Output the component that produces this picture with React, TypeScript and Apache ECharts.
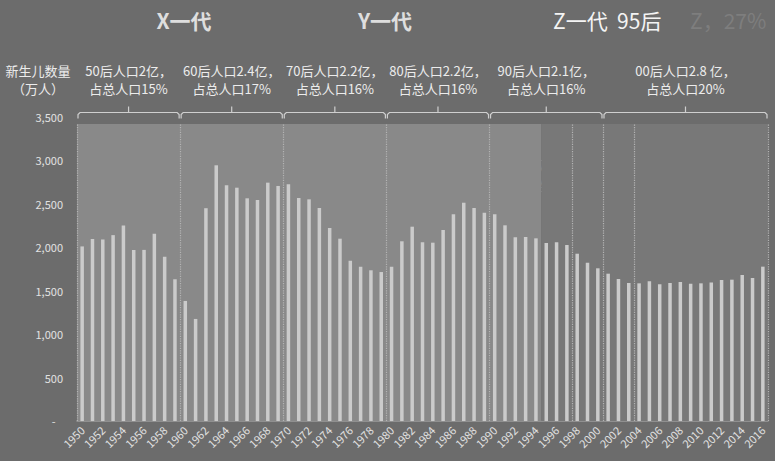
import { useEffect, useRef } from 'react';
import * as echarts from 'echarts';

const FONT = "'Noto Sans CJK SC', 'Noto Sans', sans-serif";

// 1950 … 2016
const years = Array.from({ length: 67 }, (_, i) => String(1950 + i));

// 新生儿数量（万人）
const births = [
  2010, 2095, 2090, 2140, 2250, 1970, 1970, 2157, 1892, 1632,
  1382, 1175, 2450, 2944, 2713, 2686, 2564, 2545, 2744, 2706,
  2725, 2567, 2552, 2452, 2222, 2099, 1846, 1777, 1735, 1715,
  1777, 2069, 2237, 2057, 2053, 2199, 2380, 2513, 2452, 2398,
  2380, 2253, 2115, 2118, 2103, 2049, 2057, 2026, 1926, 1823,
  1758, 1696, 1635, 1589, 1585, 1608, 1574, 1589, 1600, 1581,
  1585, 1596, 1623, 1627, 1681, 1646, 1777,
];

// cohorts: first year, last year, two label lines
const cohortStart = [1950, 1960, 1970, 1980, 1990, 2001];
const cohortEnd = [1959, 1969, 1979, 1989, 2000, 2016];
const cohortLine1 = ['50后人口2亿，', '60后人口2.4亿，', '70后人口2.2亿，', '80后人口2.2亿，', '90后人口2.1亿，', '00后人口2.8 亿，'];
const cohortLine2 = ['占总人口15%', '占总人口17%', '占总人口16%', '占总人口16%', '占总人口16%', '占总人口20%'];

// dotted dividers sit before these years (2017 = right edge)
const dividerYears = [1950, 1960, 1970, 1980, 1990, 1998, 2001, 2004, 2017];
// lighter shaded span of years
const shadeFrom = 1950;
const shadeTo = 1994;

const yTicks = { min: 0, max: 3500, interval: 500 };

const idx = (y: number) => y - 1950;

export default function App() {
  const ref = useRef<HTMLDivElement>(null);

  useEffect(() => {
    if (!ref.current) return;
    const chart = echarts.init(ref.current, null, { renderer: 'svg' });

    const bracketData = cohortStart.map((s, i) => [idx(s), idx(cohortEnd[i]) + 1]);

    chart.setOption({
      animation: false,
      backgroundColor: '#6c6c6c',
      textStyle: { fontFamily: FONT },
      grid: { left: 77, right: 7, top: 117, bottom: 40 },
      xAxis: [
        {
          type: 'category',
          data: years,
          boundaryGap: true,
          axisLine: { lineStyle: { color: '#9c9c9c', width: 1.5 } },
          axisTick: { show: false },
          axisLabel: {
            interval: 1,
            rotate: 45,
            color: '#e2e2e2',
            fontSize: 11,
            margin: 7,
            fontFamily: FONT,
          },
        },
        { type: 'value', min: 0, max: 67, show: false },
      ],
      yAxis: {
        type: 'value',
        ...yTicks,
        axisLine: { show: false },
        axisTick: { show: false },
        splitLine: { show: false },
        axisLabel: {
          color: '#e2e2e2',
          fontSize: 11,
          margin: 14,
          fontFamily: FONT,
          formatter: (v: number) => (v === 0 ? '-   ' : v.toLocaleString('en-US')),
        },
      },
      series: [
        {
          type: 'custom',
          xAxisIndex: 1,
          z: 1,
          silent: true,
          data: bracketData,
          renderItem: (params: any, api: any) => {
            const a = api.coord([api.value(0), yTicks.max]);
            const b = api.coord([api.value(1), yTicks.max]);
            const y = a[1] - 4.5;
            const x0 = a[0] + 1;
            const x1 = b[0] - 1;
            const xc = (a[0] + b[0]) / 2;
            const i = params.dataIndex;
            const stroke = { stroke: '#cfcfcf', lineWidth: 1.2, fill: null };
            return {
              type: 'group',
              children: [
                {
                  type: 'polyline',
                  shape: { points: [[x0, y + 6], [x0, y + 2], [x0 + 2, y], [x1 - 2, y], [x1, y + 2], [x1, y + 6]] },
                  style: stroke,
                },
                { type: 'line', shape: { x1: xc, y1: y, x2: xc, y2: y - 6 }, style: stroke },
                {
                  type: 'text',
                  style: {
                    text: cohortLine1[i], x: xc, y: y - 42,
                    textAlign: 'center', align: 'center', textVerticalAlign: 'middle', verticalAlign: 'middle',
                    fill: '#ececec', font: `13px ${FONT}`,
                  },
                },
                {
                  type: 'text',
                  style: {
                    text: cohortLine2[i], x: xc, y: y - 24,
                    textAlign: 'center', align: 'center', textVerticalAlign: 'middle', verticalAlign: 'middle',
                    fill: '#ececec', font: `13px ${FONT}`,
                  },
                },
              ],
            };
          },
          markArea: {
            silent: true,
            data: [
              [{ xAxis: idx(shadeFrom), yAxis: 0, itemStyle: { color: '#898989' } }, { xAxis: idx(shadeTo) + 1, yAxis: 3420 }],
              [{ xAxis: idx(shadeTo) + 1, yAxis: 0, itemStyle: { color: '#787878' } }, { xAxis: 67, yAxis: 3420 }],
            ],
          },
          markLine: {
            silent: true,
            symbol: ['none', 'none'],
            label: { show: false },
            lineStyle: { color: '#b4b4b4', type: 'dotted', width: 1.2 },
            data: dividerYears.map((yr) => [
              { xAxis: idx(yr), yAxis: 0 },
              { xAxis: idx(yr), yAxis: 3420 },
            ]),
          },
        },
        {
          type: 'bar',
          xAxisIndex: 0,
          z: 3,
          data: births,
          barWidth: 3.5,
          itemStyle: { color: '#cbcbcb' },
        },
      ],
      graphic: [
        { type: 'text', x: 184, y: 20, style: { text: 'X一代', font: `bold 21px ${FONT}`, fill: '#dedede', textAlign: 'center', textVerticalAlign: 'middle' } },
        { type: 'text', x: 385, y: 20, style: { text: 'Y一代', font: `bold 21px ${FONT}`, fill: '#dedede', textAlign: 'center', textVerticalAlign: 'middle' } },
        { type: 'text', x: 553, y: 20, style: { text: 'Z一代  95后', font: `21px ${FONT}`, fill: '#f4f4f4', textAlign: 'left', textVerticalAlign: 'middle' } },
        { type: 'text', x: 690, y: 20, style: { text: 'Z，27%', font: `21px ${FONT}`, fill: '#7e7e7e', textAlign: 'left', textVerticalAlign: 'middle' } },
        { type: 'text', x: 38, y: 70, style: { text: '新生儿数量', font: `13px ${FONT}`, fill: '#ececec', textAlign: 'center', textVerticalAlign: 'middle' } },
        { type: 'text', x: 38, y: 88, style: { text: '（万人）', font: `13px ${FONT}`, fill: '#ececec', textAlign: 'center', textVerticalAlign: 'middle' } },
        { type: 'text', x: 428, y: 175, style: { text: '成家\n立业', font: `13px ${FONT}`, lineHeight: 21, fill: '#ececec', textAlign: 'left', textVerticalAlign: 'middle' } },
        { type: 'text', x: 513, y: 175, style: { text: '大学及\n毕业生', font: `13px ${FONT}`, lineHeight: 21, fill: '#ececec', textAlign: 'left', textVerticalAlign: 'middle' } },
        { type: 'text', x: 589, y: 177, style: { text: '高\n中\n生', font: `13px ${FONT}`, lineHeight: 20, fill: '#ececec', textAlign: 'center', textVerticalAlign: 'middle' } },
        { type: 'text', x: 620, y: 177, style: { text: '初\n中\n生', font: `13px ${FONT}`, lineHeight: 20, fill: '#ececec', textAlign: 'center', textVerticalAlign: 'middle' } },
        { type: 'text', x: 673, y: 175, style: { text: '小学及学\n前儿童', font: `13px ${FONT}`, lineHeight: 21, fill: '#ececec', textAlign: 'left', textVerticalAlign: 'middle' } },
      ],
    });

    return () => chart.dispose();
  }, []);

  return (
    <div
      ref={ref}
      style={{ position: 'fixed', left: 0, top: 0, width: 775, height: 461 }}
    />
  );
}
